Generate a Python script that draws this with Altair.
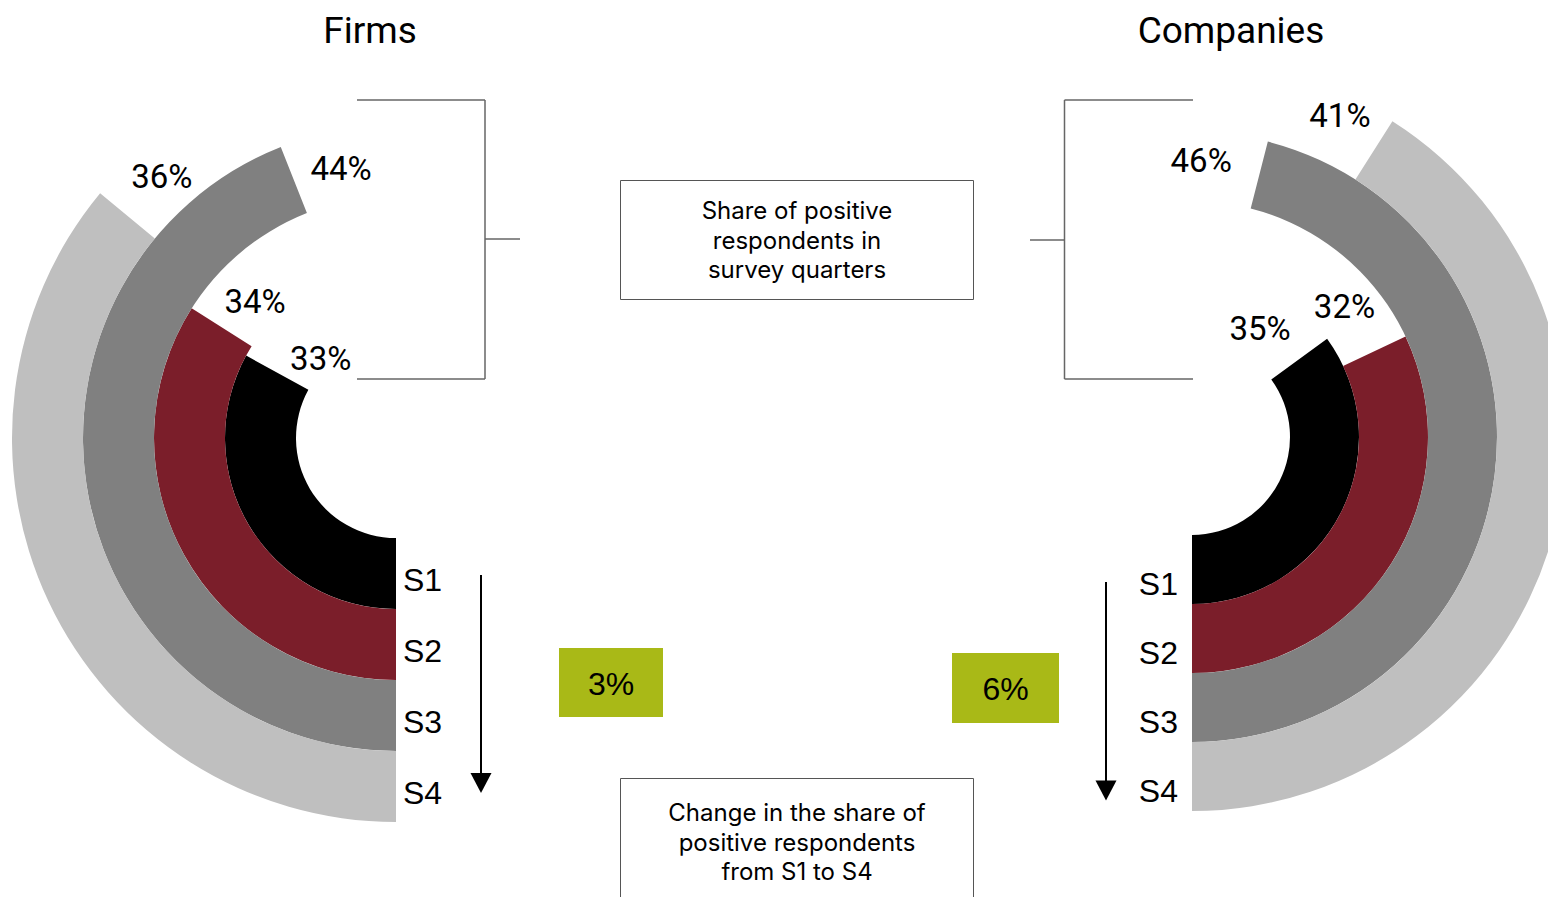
import math
import altair as alt
import pandas as pd

# ---------------- data ----------------
QUARTERS = ["S1", "S2", "S3", "S4"]
FIRMS = [33, 34, 44, 36]          # share of positive respondents, %
COMPANIES = [35, 32, 46, 41]
CHANGE = ["3%", "6%"]             # change S1 -> S4 (firms, companies)
TITLES = ["Firms", "Companies"]
BOX_TOP = ["Share of positive", "respondents in", "survey quarters"]
BOX_BOTTOM = ["Change in the share of", "positive respondents", "from S1 to S4"]

# ---------------- style / layout ----------------
COLORS = ["#000000", "#7b1e2a", "#808080", "#bfbfbf"]
GREEN = "#a9b917"
LINE_GRAY = "#666666"
LABEL_FONT = "Roboto"
SANS = "Liberation Sans"
BOX_FONT = "Inter"

dummy = pd.DataFrame({"d": [0]})
theta_scale = alt.Scale(type="linear", domain=[0, 1], range=[math.pi, 3 * math.pi])


def ring_side(values, direction, cx, cy, r_range, shift_deg, label_ring,
              s_dx, s_dy, s_align):
    df = pd.DataFrame({
        "quarter": QUARTERS,
        "ring": [float(i) for i in range(4)],
        "ring_out": [float(i + 1) for i in range(4)],
        "ring_mid": [i + 0.5 for i in range(4)],
        "start": [0.0] * 4,
        "end": [direction * v / 100 for v in values],
        "label": [f"{v}%" for v in values],
        "label_theta": [direction * (v / 100 + s / 360) for v, s in zip(values, shift_deg)],
        "label_ring": label_ring,
    })
    radius_scale = alt.Scale(type="linear", domain=[0, 4], range=r_range, zero=False, nice=False)
    base = alt.Chart(df)
    arcs = base.mark_arc().encode(
        x=alt.value(cx), y=alt.value(cy),
        theta=alt.Theta("start:Q", scale=theta_scale, stack=None),
        theta2="end:Q",
        radius=alt.Radius("ring:Q", scale=radius_scale),
        radius2="ring_out:Q",
        color=alt.Color("quarter:N", scale=alt.Scale(domain=QUARTERS, range=COLORS), legend=None),
    )
    labels = base.mark_text(font=LABEL_FONT, fontSize=33, baseline="middle",
                            align="center", dy=2, color="black").encode(
        x=alt.value(cx), y=alt.value(cy),
        theta=alt.Theta("label_theta:Q", scale=theta_scale, stack=None),
        radius=alt.Radius("label_ring:Q", scale=radius_scale),
        text="label:N",
    )
    s_labels = base.mark_text(font=SANS, fontSize=32, baseline="middle",
                              align=s_align, dx=s_dx, dy=s_dy, color="black").encode(
        x=alt.value(cx), y=alt.value(cy),
        theta=alt.Theta("start:Q", scale=theta_scale, stack=None),
        radius=alt.Radius("ring_mid:Q", scale=radius_scale),
        text="quarter:N",
    )
    return alt.layer(arcs, labels, s_labels)


left = ring_side(FIRMS, 1, 388, 430, [100, 384],
                 [18.0, 11.8, 10.1, 8.6], [0.14, 1.36, 2.47, 3.54],
                 7, 7, "left")
right = ring_side(COMPANIES, -1, 1184, 429, [98, 374],
                  [22.0, 15.4, 12.5, 7.7], [0.44, 1.49, 2.59, 3.71],
                  -14, 15, "right")


def hrule(x, x2, y, color=LINE_GRAY, w=1.5):
    return alt.Chart(dummy).mark_rule(color=color, strokeWidth=w).encode(
        x=alt.value(x), x2=alt.value(x2), y=alt.value(y))


def vrule(x, y, y2, color=LINE_GRAY, w=1.5):
    return alt.Chart(dummy).mark_rule(color=color, strokeWidth=w).encode(
        x=alt.value(x), y=alt.value(y), y2=alt.value(y2))


def text(t, x, y, size, font, baseline="middle", align="center", **kw):
    df = pd.DataFrame({"t": [t]})
    return alt.Chart(df).mark_text(font=font, fontSize=size, baseline=baseline,
                                   align=align, color="black", lineBreak="\n", **kw).encode(
        x=alt.value(x), y=alt.value(y), text="t:N")


def box(x, x2, y, y2, fill, stroke=None):
    kw = {"fill": fill}
    if stroke:
        kw.update(stroke=stroke, strokeWidth=1)
    return alt.Chart(dummy).mark_rect(**kw).encode(
        x=alt.value(x), x2=alt.value(x2), y=alt.value(y), y2=alt.value(y2))


def arrow(x, y_top, y_head):
    line = vrule(x, y_top, y_head, color="black", w=2)
    head = alt.Chart(dummy).mark_point(shape="M-1,-0.95L1,-0.95L0,0.95Z", filled=True,
                                       color="black", size=441, opacity=1, strokeWidth=0).encode(
        x=alt.value(x), y=alt.value(y_head))
    return [line, head]


annotations = [
    text(TITLES[0], 362, 6, 37, LABEL_FONT, baseline="top"),
    text(TITLES[1], 1223, 6, 37, LABEL_FONT, baseline="top"),
    # left bracket
    hrule(349, 477, 92), vrule(477, 92, 371), hrule(349, 477, 371), hrule(477, 512, 231),
    # right bracket
    hrule(1056.5, 1185, 92), vrule(1056.5, 92, 371), hrule(1056.5, 1185, 371), hrule(1022, 1056.5, 232),
    # boxes
    box(612.5, 965.5, 172.5, 291.5, "white", "#555555"),
    text("\n".join(BOX_TOP), 789, 204, 24, BOX_FONT, lineHeight=29.5),
    box(612.5, 965.5, 770.5, 905, "white", "#555555"),
    text("\n".join(BOX_BOTTOM), 789, 806, 24, BOX_FONT, lineHeight=29.5),
    # change boxes
    box(551, 655, 640, 709, GREEN),
    text(CHANGE[0], 603, 677, 32, SANS),
    box(944, 1051, 645, 715, GREEN),
    text(CHANGE[1], 997.5, 682, 32, SANS),
]
annotations += arrow(473, 567, 775)
annotations += arrow(1098, 574, 782.5)

chart = alt.layer(left, right, *annotations).resolve_scale(
    radius="independent"
).properties(
    width=1540, height=889, padding=0,
    autosize=alt.AutoSizeParams(type="none"),
    background="white",
).configure_view(stroke=None)

chart.save("out.html", embed_options={"renderer": "svg", "actions": False})
